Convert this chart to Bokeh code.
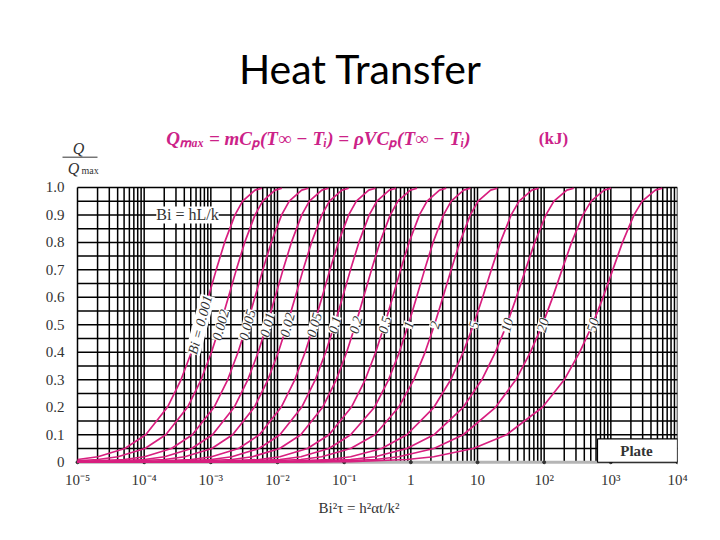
from bokeh.plotting import figure
from bokeh.models import (ColumnDataSource, FixedTicker, LabelSet, Label,
                          BoxAnnotation, Arrow)
from bokeh.embed import file_html
from bokeh.resources import INLINE

# ---------------- data ----------------
# Q/Qmax levels at which the position Bi^2*tau of every curve was read
Q_LEVELS = [0.002, 0.01, 0.02, 0.05, 0.1, 0.2, 0.3, 0.4, 0.5,
            0.6, 0.7, 0.8, 0.9, 0.95, 0.99, 0.997]

BI_VALUES = [0.001, 0.002, 0.005, 0.01, 0.02, 0.05, 0.1, 0.2, 0.5,
             1, 2, 5, 10, 20, 50]
BI_LABELS = ["Bi = 0.001", "0.002", "0.005", "0.01", "0.02", "0.05", "0.1",
             "0.2", "0.5", "1", "2", "5", "10", "20", "50"]
# Q/Qmax of each curve at the left edge of the chart (Bi^2 tau = 1e-5)
Q_AT_LEFT_EDGE = [0.01, 0.005, 0.002, 0.001, 0.0005, 0.0002, 0.0001, 0.0,
                  0.0, 0.0, 0.0, 0.0, 0.0, 0.0, 0.0]

# Bi^2 tau values of each curve at the Q_LEVELS above
X_BI_0001 = [2.0e-6, 1.005e-5, 2.02e-5, 5.13e-5, 1.054e-4, 2.231e-4, 3.567e-4,
             5.108e-4, 6.931e-4, 9.163e-4, 1.204e-3, 1.609e-3, 2.303e-3, 2.996e-3,
             4.605e-3, 5.81e-3]
X_BI_0002 = [4.0e-6, 2.01e-5, 4.04e-5, 1.027e-4, 2.109e-4, 4.464e-4, 7.138e-4,
             1.022e-3, 1.387e-3, 1.834e-3, 2.409e-3, 3.220e-3, 4.608e-3, 5.994e-3,
             9.215e-3, 1.162e-2]
X_BI_0005 = [1.0e-5, 5.03e-5, 1.012e-4, 2.569e-4, 5.278e-4, 1.117e-3, 1.786e-3,
             2.558e-3, 3.471e-3, 4.589e-3, 6.030e-3, 8.060e-3, 1.153e-2, 1.500e-2,
             2.306e-2, 2.909e-2]
X_BI_001 = [2.01e-5, 1.009e-4, 2.028e-4, 5.15e-4, 1.058e-3, 2.240e-3, 3.581e-3,
            5.128e-3, 6.959e-3, 9.20e-3, 1.209e-2, 1.616e-2, 2.312e-2, 3.008e-2,
            4.624e-2, 5.832e-2]
X_BI_002 = [4.03e-5, 2.022e-4, 4.064e-4, 1.032e-3, 2.121e-3, 4.489e-3, 7.177e-3,
            1.028e-2, 1.394e-2, 1.844e-2, 2.422e-2, 3.238e-2, 4.633e-2, 6.027e-2,
            9.265e-2, 0.1169]
X_BI_005 = [1.017e-4, 5.107e-4, 1.027e-3, 2.607e-3, 5.356e-3, 1.134e-2, 1.813e-2,
            2.596e-2, 3.522e-2, 4.656e-2, 6.118e-2, 8.179e-2, 0.1170, 0.1522,
            0.2340, 0.2952]
X_BI_01 = [2.01e-4, 1.016e-3, 2.067e-3, 5.28e-3, 1.087e-2, 2.303e-2, 3.684e-2,
           5.276e-2, 7.16e-2, 9.466e-2, 0.1244, 0.1663, 0.2379, 0.3095, 0.4758, 0.600]
X_BI_02 = [4.05e-4, 2.07e-3, 4.19e-3, 1.078e-2, 2.234e-2, 4.747e-2, 7.60e-2,
           0.1089, 0.1479, 0.1955, 0.2569, 0.3435, 0.4915, 0.6395, 0.9831, 1.24]
X_BI_05 = [1.02e-3, 5.29e-3, 1.086e-2, 2.82e-2, 5.92e-2, 0.1282, 0.2064,
           0.2967, 0.4035, 0.534, 0.7028, 0.9403, 1.346, 1.752, 2.695, 3.40]
X_BI_1 = [2.07e-3, 1.09e-2, 2.24e-2, 5.9e-2, 0.125, 0.285, 0.463, 0.671,
          0.9175, 1.219, 1.608, 2.155, 3.092, 4.03, 6.20, 7.83]
X_BI_2 = [4.19e-3, 2.24e-2, 4.6e-2, 0.125, 0.29, 0.656, 1.105, 1.634,
          2.263, 3.03, 4.025, 5.42, 7.81, 10.2, 15.76, 19.9]
X_BI_5 = [1.086e-2, 5.9e-2, 0.125, 0.365, 0.87, 2.22, 3.96, 6.09,
          8.72, 11.95, 16.12, 21.99, 32.0, 42.1, 65.4, 82.8]
X_BI_10 = [2.24e-2, 0.125, 0.29, 0.87, 2.22, 6.1, 11.6, 18.5,
           27.4, 38.3, 52.4, 72.3, 106.2, 140.2, 219.0, 278.0]
X_BI_20 = [4.6e-2, 0.29, 0.656, 2.22, 6.1, 18.66, 37.6, 62.0,
           94.1, 134.0, 185.0, 258.0, 382.0, 506.0, 793.0, 1008.0]
X_BI_50 = [0.125, 0.87, 2.2, 8.64, 27.3, 94.2, 200.0, 340.0,
           529.0, 764.0, 1068.0, 1495.0, 2226.0, 2957.0, 4653.0, 5900.0]

CURVES = [X_BI_0001, X_BI_0002, X_BI_0005, X_BI_001, X_BI_002, X_BI_005, X_BI_01,
          X_BI_02, X_BI_05, X_BI_1, X_BI_2, X_BI_5, X_BI_10, X_BI_20, X_BI_50]

X_TICKS = [1e-5, 1e-4, 1e-3, 1e-2, 1e-1, 1, 10, 1e2, 1e3, 1e4]
X_TICK_LABELS = ["10⁻⁵", "10⁻⁴", "10⁻³", "10⁻²", "10⁻¹", "1", "10", "10²", "10³", "10⁴"]
Y_TICKS = [0.0, 0.1, 0.2, 0.3, 0.4, 0.5, 0.6, 0.7, 0.8, 0.9, 1.0]
Y_TICK_LABELS = ["0", "0.1", "0.2", "0.3", "0.4", "0.5", "0.6", "0.7", "0.8", "0.9", "1.0"]

LABEL_LEVEL = 0.5
X_MIN, X_MAX = 1e-5, 1e4
Y_MIN, Y_MAX = 0.0, 1.0

# ---------------- layout / styling ----------------
CURVE_COLOR = "#d81f7f"
FORMULA_COLOR = "#cc2288"
TEXT_COLOR = "#333333"
SERIF = "Liberation Serif"
PX_PER_DECADE = 600 / 9    # horizontal pixels per decade of Bi^2 tau
PX_PER_UNIT = 275          # vertical pixels per 1.0 of Q/Qmax
LEFT_PAD_PX = 37           # extra view room left of 1e-5 for the Q/Qmax heading
Y_VIEW_TOP = 1.56          # view room above the chart for the headings
Y_VIEW_BOTTOM = -0.03      # a little room below 0 for the "0" tick label

x_view_left = 10 ** (-5 - LEFT_PAD_PX / PX_PER_DECADE)


def at_px(dx):
    """data x located dx pixels right of the 1e-5 gridline (for annotations)."""
    return 10 ** (-5 + dx / PX_PER_DECADE)


p = figure(frame_width=600 + LEFT_PAD_PX,
           frame_height=int(round(PX_PER_UNIT * (Y_VIEW_TOP - Y_VIEW_BOTTOM))),
           x_axis_type="log", x_range=(x_view_left, X_MAX),
           y_range=(Y_VIEW_BOTTOM, Y_VIEW_TOP),
           min_border_left=77 - LEFT_PAD_PX, min_border_right=35, min_border_top=33,
           min_border_bottom=60, output_backend="svg", toolbar_location=None,
           background_fill_color="white", border_fill_color="white")
p.outline_line_color = None
p.xgrid.visible = False
p.ygrid.visible = False

# grid: every 1..9 x decade, and every 0.05 in Q/Qmax (limited to the chart box)
grid_x = [m * 10.0 ** e for e in range(-5, 4) for m in range(1, 10)] + [X_MAX]
grid_y = [i * 0.05 for i in range(21)]
p.segment(x0=grid_x, y0=[Y_MIN] * len(grid_x), x1=grid_x, y1=[Y_MAX] * len(grid_x),
          line_color="black", line_width=1.5)
p.segment(x0=[X_MIN] * len(grid_y), y0=grid_y, x1=[X_MAX] * len(grid_y), y1=grid_y,
          line_color="black", line_width=1.5)
# grey base line with small decade marks at Q/Qmax = 0
p.segment(x0=[X_MIN], y0=[Y_MIN], x1=[X_MAX], y1=[Y_MIN],
          line_color="#b5b5b5", line_width=3)
p.scatter(X_TICKS, [Y_MIN] * len(X_TICKS), size=3, color="#333333")

# curves: start at the chart's left edge, then the read points inside the chart
for xs, q0 in zip(CURVES, Q_AT_LEFT_EDGE):
    pts = [(x, q) for x, q in zip(xs, Q_LEVELS) if x > X_MIN]
    cx = [X_MIN] + [x for x, _ in pts]
    cy = [q0] + [q for _, q in pts]
    p.line(cx, cy, line_color=CURVE_COLOR, line_width=1.7)

# axes
p.xaxis.ticker = FixedTicker(ticks=X_TICKS)
p.xaxis.major_label_overrides = {t: s for t, s in zip(X_TICKS, X_TICK_LABELS)}
p.xaxis.axis_line_color = None
p.xaxis.major_tick_line_color = None
p.xaxis.major_tick_out = 0
p.xaxis.minor_tick_line_color = None
p.xaxis.major_label_text_font = SERIF
p.xaxis.major_label_text_font_size = "15px"
p.xaxis.major_label_text_color = TEXT_COLOR
p.xaxis.major_label_standoff = 1
p.xaxis.axis_label = "Bi²τ = h²αt/k²"
p.xaxis.axis_label_text_font = SERIF
p.xaxis.axis_label_text_font_size = "15px"
p.xaxis.axis_label_text_font_style = "normal"
p.xaxis.axis_label_text_color = TEXT_COLOR
p.xaxis.axis_label_standoff = 9

p.yaxis.fixed_location = X_MIN
p.yaxis.ticker = FixedTicker(ticks=Y_TICKS)
p.yaxis.major_label_overrides = {t: s for t, s in zip(Y_TICKS, Y_TICK_LABELS)}
p.yaxis.axis_line_color = None
p.yaxis.major_tick_line_color = None
p.yaxis.minor_tick_line_color = None
p.yaxis.major_label_text_font = SERIF
p.yaxis.major_label_text_font_size = "15px"
p.yaxis.major_label_text_color = TEXT_COLOR
p.yaxis.major_label_standoff = 7

# curve labels (on each curve at Q/Qmax = 0.5)
idx = Q_LEVELS.index(LABEL_LEVEL)
lab_src = ColumnDataSource(dict(x=[c[idx] for c in CURVES],
                                y=[LABEL_LEVEL] * len(CURVES),
                                text=BI_LABELS))
p.add_layout(LabelSet(x="x", y="y", text="text", source=lab_src, angle=1.31,
                      text_align="center", text_baseline="middle",
                      text_font=SERIF, text_font_style="italic",
                      text_font_size="14px", text_color=TEXT_COLOR,
                      background_fill_color="white", background_fill_alpha=1.0))

# Bi = hL/k label
p.add_layout(Label(x=at_px(110), y=0.9, text="Bi = hL/k", text_align="center",
                   text_baseline="middle", text_font=SERIF, text_font_size="16px",
                   text_color=TEXT_COLOR, background_fill_color="white",
                   background_fill_alpha=1.0))

# Plate box
p.add_layout(BoxAnnotation(left=at_px(520), right=X_MAX, bottom=Y_MIN, top=0.085,
                           fill_color="white", fill_alpha=1.0,
                           line_color="black", line_width=1.2, line_alpha=1.0))
p.add_layout(Label(x=at_px(559), y=0.04, text="Plate", text_align="center",
                   text_baseline="middle", text_font=SERIF, text_font_style="bold",
                   text_font_size="15px", text_color=TEXT_COLOR))

# y heading Q / Qmax
p.add_layout(Label(x=at_px(1), y=1.142, text="Q", text_align="center",
                   text_baseline="middle", text_font=SERIF, text_font_style="italic",
                   text_font_size="16px", text_color=TEXT_COLOR))
p.add_layout(Arrow(x_start=at_px(-15), y_start=1.11, x_end=at_px(20), y_end=1.11,
                   end=None, line_color=TEXT_COLOR, line_width=1))
p.add_layout(Label(x=at_px(-4), y=1.069, text="Q", text_align="center",
                   text_baseline="middle", text_font=SERIF, text_font_style="italic",
                   text_font_size="16px", text_color=TEXT_COLOR))
p.add_layout(Label(x=at_px(4), y=1.06, text="max", text_align="left",
                   text_baseline="middle", text_font=SERIF,
                   text_font_size="10px", text_color=TEXT_COLOR))

# formula and units
p.add_layout(Label(x=at_px(241), y=1.178, text="Qₘₐₓ = mCₚ(T∞ − Tᵢ) = ρVCₚ(T∞ − Tᵢ)",
                   text_align="center", text_baseline="middle", text_font=SERIF,
                   text_font_style="bold italic", text_font_size="19px",
                   text_color=FORMULA_COLOR))
p.add_layout(Label(x=at_px(476), y=1.178, text="(kJ)", text_align="center",
                   text_baseline="middle", text_font=SERIF, text_font_style="bold",
                   text_font_size="17px", text_color=FORMULA_COLOR))

# page title
p.add_layout(Label(x=at_px(283), y=1.433, text="Heat Transfer", text_align="center",
                   text_baseline="middle", text_font="Lato", text_font_size="41px",
                   text_color="black"))

open("out.html", "w").write(file_html(p, INLINE))
